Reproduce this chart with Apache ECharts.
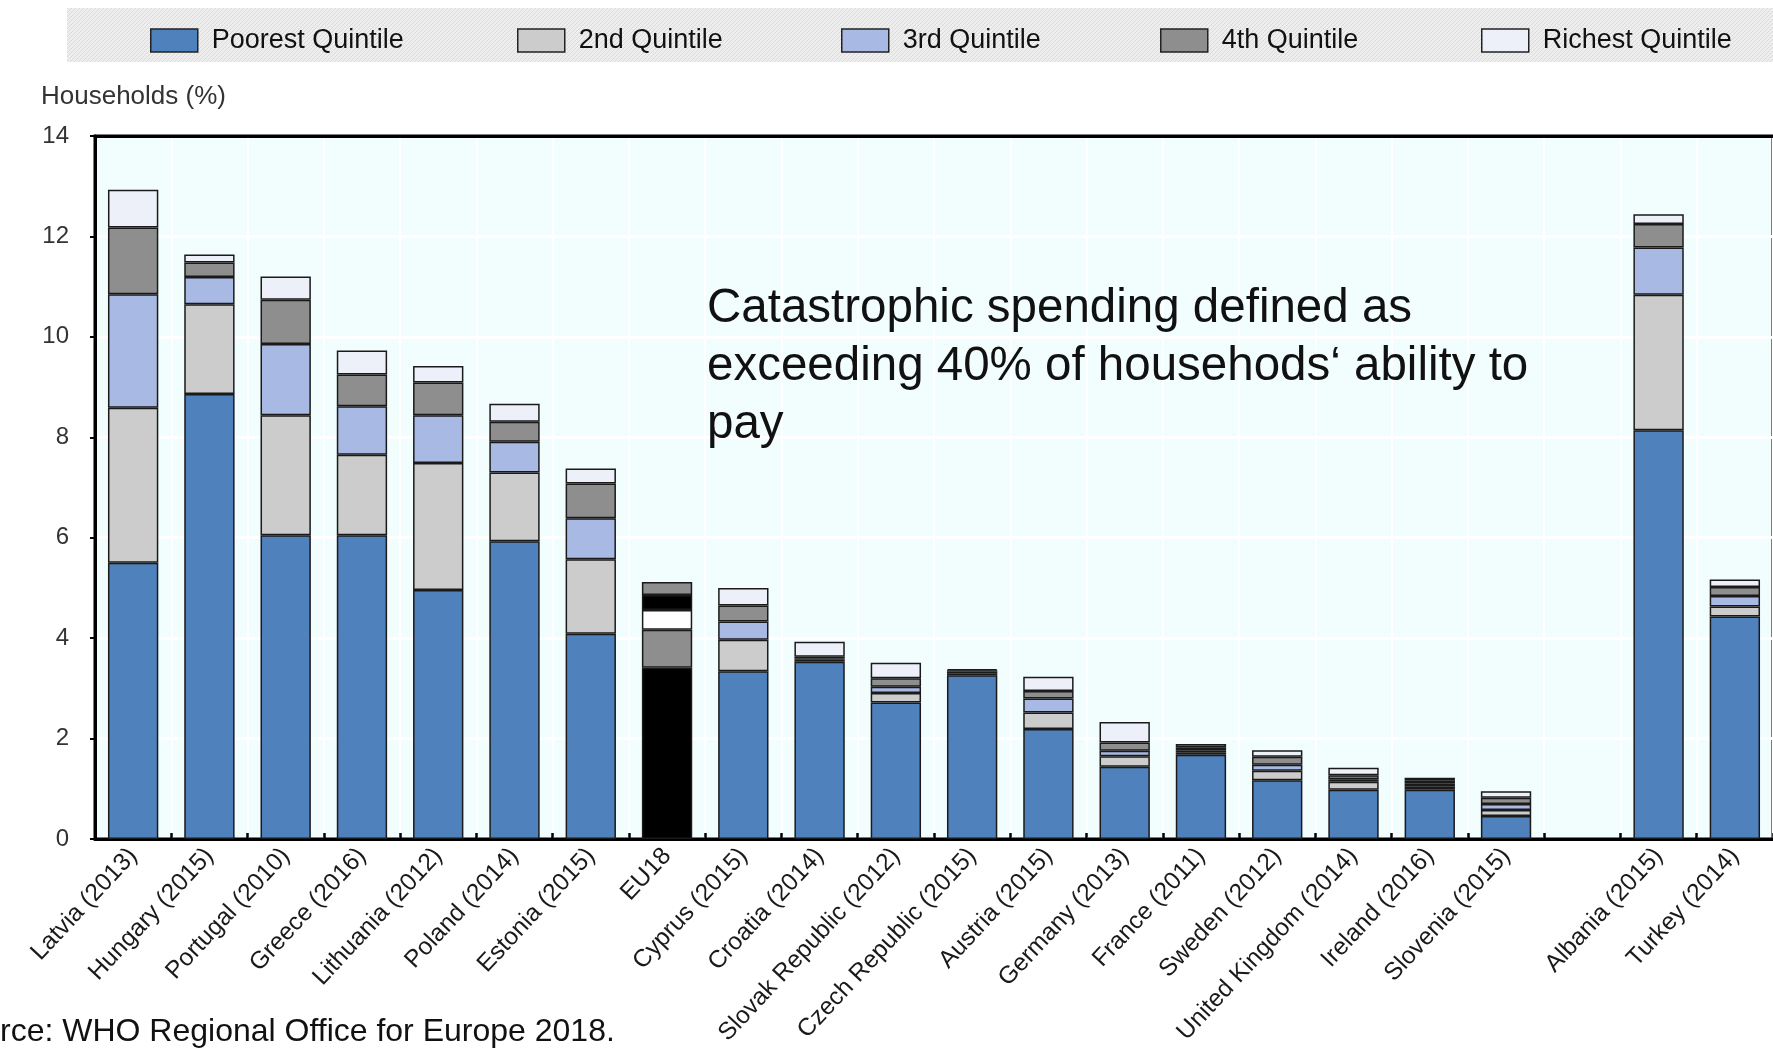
<!DOCTYPE html>
<html>
<head>
<meta charset="utf-8">
<script src="https://cdn.jsdelivr.net/npm/echarts@6/dist/echarts.min.js"></script>
<style>
html,body{margin:0;padding:0;background:#fff;}
#chart{width:1773px;height:1048px;}
</style>
</head>
<body>
<div id="chart"></div>
<script>
const categories = ['Latvia (2013)','Hungary (2015)','Portugal (2010)','Greece (2016)','Lithuania (2012)','Poland (2014)','Estonia (2015)','EU18','Cyprus (2015)','Croatia (2014)','Slovak Republic (2012)','Czech Republic (2015)','Austria (2015)','Germany (2013)','France (2011)','Sweden (2012)','United Kingdom (2014)','Ireland (2016)','Slovenia (2015)','','Albania (2015)','Turkey (2014)'];
const seriesNames = ['Poorest Quintile','2nd Quintile','3rd Quintile','4th Quintile','Richest Quintile'];
const poorest = [5.50, 8.86, 6.05, 6.05, 4.96, 5.93, 4.09, 3.41, 3.34, 3.53, 2.72, 3.26, 2.19, 1.44, 1.68, 1.17, 0.98, 0.98, 0.46, null, 8.14, 4.43];
const second  = [3.09, 1.79, 2.39, 1.60, 2.53, 1.37, 1.48, 0.76, 0.63, 0.04, 0.19, 0.03, 0.33, 0.21, 0.05, 0.19, 0.16, 0.06, 0.12, null, 2.70, 0.20];
const third   = [2.26, 0.54, 1.42, 0.97, 0.95, 0.61, 0.82, 0.39, 0.36, 0.03, 0.12, 0.04, 0.28, 0.11, 0.04, 0.12, 0.05, 0.06, 0.12, null, 0.94, 0.21];
const fourth  = [1.33, 0.29, 0.88, 0.63, 0.65, 0.40, 0.69, 0.30, 0.32, 0.03, 0.17, 0.03, 0.15, 0.16, 0.06, 0.16, 0.08, 0.06, 0.12, null, 0.47, 0.18];
const richest = [0.75, 0.16, 0.46, 0.48, 0.33, 0.36, 0.30, 0.26, 0.35, 0.30, 0.31, 0.02, 0.28, 0.41, 0.06, 0.13, 0.15, 0.06, 0.13, null, 0.19, 0.15];
const yTicks = [0, 2, 4, 6, 8, 10, 12, 14];
const seriesColors = ['#4f81bd', '#cccccc', '#a8b9e3', '#8e8e8e', '#edf0f8'];
const eu18Colors = ['#000000', '#8e8e8e', '#ffffff', '#000000', '#8e8e8e'];
const highlightCategory = 'EU18';
const annotation = 'Catastrophic spending defined as\nexceeding 40% of househods\u2018 ability to\npay';
const yAxisTitle = 'Households (%)';
const sourceText = 'rce: WHO Regional Office for Europe 2018.';

const NARROW = "'Liberation Sans Narrow', 'Liberation Sans', Arial, sans-serif";
const SANS = "'Liberation Sans', Arial, sans-serif";

const allValues = [poorest, second, third, fourth, richest];
const hiIdx = categories.indexOf(highlightCategory);

// hatch pattern for legend band
const pc = document.createElement('canvas');
pc.width = 4; pc.height = 4;
const pctx = pc.getContext('2d');
pctx.fillStyle = '#eeeeee'; pctx.fillRect(0,0,4,4);
pctx.fillStyle = '#dadada';
pctx.fillRect(0,3,1,1); pctx.fillRect(1,2,1,1); pctx.fillRect(2,1,1,1); pctx.fillRect(3,0,1,1);

const series = allValues.map((vals, si) => ({
  name: seriesNames[si],
  type: 'bar',
  stack: 'total',
  barWidth: '66%',
  itemStyle: { color: seriesColors[si], borderColor: '#1a1a1a', borderWidth: 1.5 },
  emphasis: { disabled: true },
  data: vals.map((v, i) => i === hiIdx ? { value: v, itemStyle: { color: eu18Colors[si] } } : v)
}));

const legendLefts = [150, 517, 841, 1160, 1481];
const legends = seriesNames.map((n, i) => ({
  data: [n],
  left: legendLefts[i],
  top: 27,
  padding: 0,
  icon: 'rect',
  itemWidth: 47,
  itemHeight: 23,
  selectedMode: false,
  itemStyle: { borderColor: '#222', borderWidth: 1.5 },
  textStyle: { fontFamily: NARROW, fontSize: 27, color: '#111', lineHeight: 23, padding: [0, 0, 0, 9] }
}));

const chart = echarts.init(document.getElementById('chart'), null, { renderer: 'canvas' });
chart.setOption({
  animation: false,
  backgroundColor: '#ffffff',
  legend: legends,
  grid: {
    left: 95, top: 136, width: 1686, height: 704,
    show: true, backgroundColor: '#f2fefe', borderColor: '#000', borderWidth: 3
  },
  xAxis: [{
    type: 'category',
    data: categories,
    axisLine: { lineStyle: { color: '#000', width: 3 } },
    axisTick: { show: true, inside: true, length: 6, lineStyle: { color: '#000', width: 2.5 } },
    splitLine: { show: true, lineStyle: { color: '#ffffff', width: 2 } },
    axisLabel: { interval: 0, rotate: 47, margin: 13, fontFamily: NARROW, fontSize: 24.5, color: '#1a1a1a' }
  }, {
    type: 'category',
    data: categories,
    position: 'top',
    axisLine: { show: true, onZero: false, lineStyle: { color: '#000', width: 3 } },
    axisTick: { show: false },
    axisLabel: { show: false },
    splitLine: { show: false }
  }],
  yAxis: {
    type: 'value',
    min: yTicks[0], max: yTicks[yTicks.length - 1], interval: 2,
    axisLine: { show: true, lineStyle: { color: '#000', width: 3 } },
    axisTick: { show: true, length: 5, lineStyle: { color: '#000', width: 2 } },
    splitLine: { show: true, lineStyle: { color: '#ffffff', width: 3 } },
    axisLabel: { margin: 26, fontFamily: NARROW, fontSize: 24, color: '#333' }
  },
  series: series,
  graphic: [
    { type: 'rect', z: -10, shape: { x: 67, y: 8, width: 1706, height: 54 }, style: { fill: { image: pc, repeat: 'repeat' } } },
    { type: 'text', z: 100, x: 41, y: 97, style: { text: yAxisTitle, font: '26px ' + NARROW, fill: '#333', verticalAlign: 'middle' } },
    { type: 'text', z: 100, x: 707, y: 280, style: { text: annotation, font: '47.5px ' + SANS, lineHeight: 58, fill: '#111', verticalAlign: 'top' } },
    { type: 'text', z: 100, x: 0, y: 1032, style: { text: sourceText, font: '32px ' + SANS, fill: '#111', verticalAlign: 'middle' } }
  ]
});
</script>
</body>
</html>
